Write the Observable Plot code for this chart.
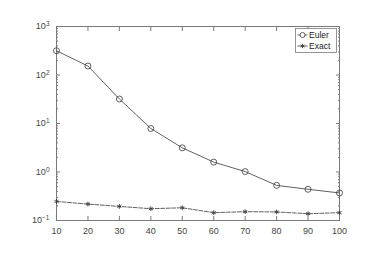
<!DOCTYPE html>
<html>
<head>
<meta charset="utf-8">
<script src="https://cdn.jsdelivr.net/npm/d3@7"></script>
<script src="https://cdn.jsdelivr.net/npm/@observablehq/plot@0.6"></script>
<style>
  html, body { margin: 0; padding: 0; background: #fff; }
  #chart svg { display: block; }
</style>
</head>
<body>
<div id="chart"></div>
<script>
const steps = [10, 20, 30, 40, 50, 60, 70, 80, 90, 100];
const eulerValues = [316, 153, 32, 7.9, 3.15, 1.6, 1.02, 0.53, 0.44, 0.37];
const exactValues = [0.247, 0.218, 0.195, 0.175, 0.183, 0.145, 0.152, 0.15, 0.138, 0.145];
const seriesNames = ["Euler", "Exact"];
const xTicks = [10, 20, 30, 40, 50, 60, 70, 80, 90, 100];
const yTicks = [0.1, 1, 10, 100, 1000];
const yMinorTicks = [0.1, 1, 10, 100].flatMap(d => [2,3,4,5,6,7,8,9].map(m => m * d));

const euler = steps.map((s, i) => ({x: s, y: eulerValues[i]}));
const exact = steps.map((s, i) => ({x: s, y: exactValues[i]}));

const axisColor = "#7a7a7a";
const lineColor = "#3a3a3a";
const W = 382, H = 254;
const mL = 56, mR = 43, mT = 26, mB = 34;

const plot = Plot.plot({
  width: W, height: H,
  marginLeft: mL, marginRight: mR, marginTop: mT, marginBottom: mB,
  style: {fontFamily: "'Liberation Sans', Arial, sans-serif", fontSize: "9px", color: "#333"},
  x: {domain: [10, 100], axis: null},
  y: {type: "log", domain: [0.1, 1000], axis: null},
  marks: [
    Plot.frame({stroke: axisColor, strokeWidth: 1}),
    Plot.axisY(yTicks, {anchor: "left", tickSize: -4, text: null, label: null, stroke: axisColor}),
    Plot.axisY(yTicks, {anchor: "right", tickSize: -4, text: null, label: null, stroke: axisColor}),
    Plot.axisY(yMinorTicks, {anchor: "left", tickSize: -2, text: null, label: null, stroke: axisColor}),
    Plot.axisY(yMinorTicks, {anchor: "right", tickSize: -2, text: null, label: null, stroke: axisColor}),
    Plot.axisX(xTicks, {anchor: "bottom", tickSize: -4, text: null, label: null, stroke: axisColor}),
    Plot.axisX(xTicks, {anchor: "top", tickSize: -4, text: null, label: null, stroke: axisColor}),
    Plot.axisY(yTicks, {anchor: "left", tickSize: 0, tickPadding: 7, label: null, tickFormat: d => "10^" + Math.round(Math.log10(d)), fill: "#444"}),
    Plot.axisX(xTicks, {anchor: "bottom", tickSize: 0, tickPadding: 7, label: null, tickFormat: d => String(d), fill: "#444"}),
    Plot.line(euler, {x: "x", y: "y", stroke: lineColor, strokeWidth: 0.8}),
    Plot.dot(euler, {x: "x", y: "y", r: 3, stroke: lineColor, strokeWidth: 0.8, fill: "none"}),
    Plot.line(exact, {x: "x", y: "y", stroke: lineColor, strokeWidth: 0.8, strokeDasharray: "4,1.5"}),
    Plot.dot(exact, {x: "x", y: "y", r: 2.2, symbol: "asterisk", stroke: lineColor, strokeWidth: 0.9})
  ]
});

const svg = d3.select(plot);
svg.selectAll("text").each(function() {
  const t = d3.select(this);
  const s = t.text();
  const m = /^10\^(-?\d+)$/.exec(s);
  if (m) {
    t.text("10");
    t.append("tspan").attr("dy", "-0.45em").attr("font-size", "6.5px").text(m[1].replace("-", "\u2212"));
  }
});

const lg = svg.append("g").attr("font-family", "'Liberation Sans', Arial, sans-serif").attr("font-size", "8.5px").attr("fill", "#222").attr("text-anchor", "start");
const bx = 295.5, by = 28.5, bw = 41, bh = 24;
lg.append("rect").attr("x", bx).attr("y", by).attr("width", bw).attr("height", bh).attr("fill", "#fff").attr("stroke", axisColor).attr("stroke-width", 0.8);
seriesNames.forEach((name, i) => {
  const cy = by + 6.5 + i * 11;
  lg.append("line").attr("x1", bx + 2).attr("x2", bx + 12).attr("y1", cy).attr("y2", cy).attr("stroke", lineColor).attr("stroke-width", 0.8);
  if (i === 0) {
    lg.append("circle").attr("cx", bx + 7).attr("cy", cy).attr("r", 2.5).attr("fill", "#fff").attr("stroke", lineColor).attr("stroke-width", 0.8);
  } else {
    const sym = d3.symbol(d3.symbolAsterisk, 14)();
    lg.append("path").attr("d", sym).attr("transform", `translate(${bx + 7},${cy})`).attr("fill", "none").attr("stroke", lineColor).attr("stroke-width", 0.9);
  }
  lg.append("text").attr("x", bx + 13.5).attr("y", cy).attr("dy", "0.35em").attr("text-anchor", "start").text(name);
});

document.getElementById("chart").appendChild(plot);
</script>
</body>
</html>
